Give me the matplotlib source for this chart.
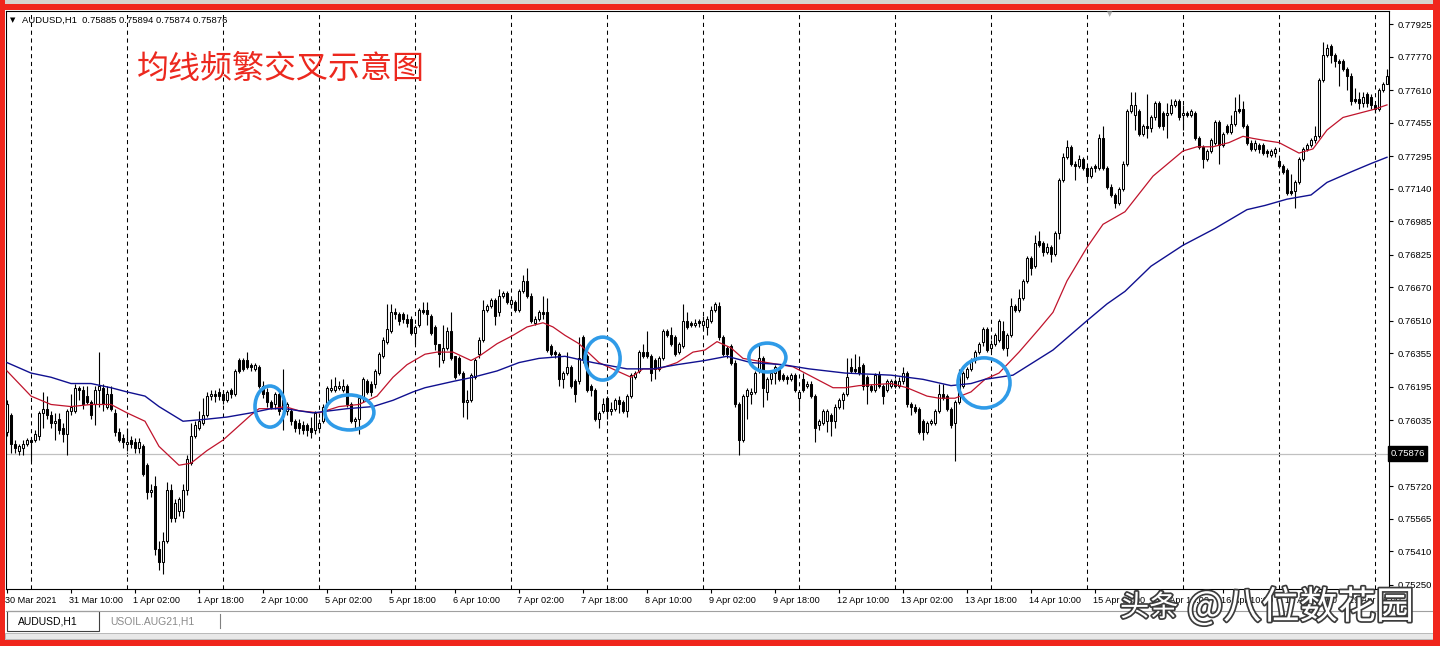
import numpy as np
import matplotlib
matplotlib.use("Agg")
import matplotlib.pyplot as plt
import matplotlib.transforms as mtransforms
import matplotlib.patheffects as pe
from matplotlib.patches import Ellipse, Rectangle
from matplotlib.lines import Line2D

plt.rcParams['font.family'] = ['Liberation Sans', 'DejaVu Sans']

# AUDUSD H1, 30 Mar 2021 18:00 .. 20 Apr 2021 03:00
opens = [
    0.7598, 0.7606, 0.7592, 0.7589, 0.7590, 0.7592, 0.7594, 0.7594, 0.7596, 0.7607,
    0.7609, 0.7606, 0.7602, 0.7604, 0.7600, 0.7597, 0.7608, 0.7608, 0.7619, 0.7618,
    0.7615, 0.7612, 0.7611, 0.7618, 0.7619, 0.7610, 0.7616, 0.7607, 0.7598, 0.7595,
    0.7592, 0.7594, 0.7593, 0.7590, 0.7591, 0.7582, 0.7569, 0.7572, 0.7542, 0.7536,
    0.7546, 0.7570, 0.7557, 0.7560, 0.7560, 0.7570, 0.7583, 0.7596, 0.7600, 0.7602,
    0.7606, 0.7615, 0.7616, 0.7617, 0.7616, 0.7613, 0.7618, 0.7616, 0.7632, 0.7632,
    0.7632, 0.7630, 0.7628, 0.7629, 0.7620, 0.7617, 0.7612, 0.7611, 0.7616, 0.7613,
    0.7608, 0.7608, 0.7603, 0.7602, 0.7601, 0.7601, 0.7600, 0.7599, 0.7600, 0.7603,
    0.7611, 0.7618, 0.7618, 0.7619, 0.7618, 0.7620, 0.7611, 0.7603, 0.7604, 0.7614,
    0.7622, 0.7621, 0.7621, 0.7626, 0.7634, 0.7641, 0.7646, 0.7655, 0.7654, 0.7654,
    0.7652, 0.7652, 0.7645, 0.7649, 0.7656, 0.7656, 0.7653, 0.7648, 0.7640, 0.7632,
    0.7638, 0.7646, 0.7634, 0.7633, 0.7626, 0.7612, 0.7613, 0.7624, 0.7635, 0.7642,
    0.7656, 0.7658, 0.7661, 0.7655, 0.7663, 0.7664, 0.7659, 0.7660, 0.7656, 0.7665,
    0.7670, 0.7663, 0.7650, 0.7652, 0.7655, 0.7655, 0.7639, 0.7636, 0.7635, 0.7623,
    0.7626, 0.7629, 0.7622, 0.7622, 0.7643, 0.7634, 0.7620, 0.7618, 0.7604, 0.7608,
    0.7614, 0.7608, 0.7609, 0.7613, 0.7612, 0.7608, 0.7615, 0.7624, 0.7627, 0.7636,
    0.7636, 0.7634, 0.7632, 0.7628, 0.7633, 0.7646, 0.7644, 0.7643, 0.7636, 0.7639,
    0.7651, 0.7650, 0.7649, 0.7651, 0.7649, 0.7648, 0.7651, 0.7656, 0.7658, 0.7643,
    0.7638, 0.7639, 0.7631, 0.7611, 0.7594, 0.7615, 0.7616, 0.7617, 0.7627, 0.7633,
    0.7617, 0.7623, 0.7626, 0.7628, 0.7625, 0.7624, 0.7623, 0.7625, 0.7614, 0.7623,
    0.7620, 0.7621, 0.7615, 0.7601, 0.7602, 0.7603, 0.7606, 0.7603, 0.7610, 0.7613,
    0.7616, 0.7629, 0.7628, 0.7629, 0.7630, 0.7624, 0.7620, 0.7618, 0.7625, 0.7620,
    0.7618, 0.7620, 0.7622, 0.7620, 0.7622, 0.7626, 0.7611, 0.7610, 0.7609, 0.7603,
    0.7598, 0.7602, 0.7602, 0.7608, 0.7616, 0.7615, 0.7609, 0.7602, 0.7612, 0.7620,
    0.7624, 0.7628, 0.7632, 0.7636, 0.7641, 0.7647, 0.7638, 0.7640, 0.7642, 0.7646,
    0.7638, 0.7644, 0.7658, 0.7656, 0.7662, 0.7670, 0.7681, 0.7677, 0.7689, 0.7688,
    0.7684, 0.7686, 0.7683, 0.7693, 0.7718, 0.7729, 0.7734, 0.7726, 0.7725, 0.7728,
    0.7724, 0.7720, 0.7725, 0.7724, 0.7738, 0.7724, 0.7715, 0.7711, 0.7707, 0.7714,
    0.7726, 0.7751, 0.7749, 0.7751, 0.7740, 0.7744, 0.7743, 0.7748, 0.7755, 0.7750,
    0.7749, 0.7750, 0.7754, 0.7756, 0.7749, 0.7750, 0.7749, 0.7750, 0.7738, 0.7734,
    0.7728, 0.7732, 0.7736, 0.7746, 0.7735, 0.7744, 0.7741, 0.7745, 0.7752, 0.7752,
    0.7744, 0.7736, 0.7733, 0.7735, 0.7735, 0.7732, 0.7730, 0.7731, 0.7727, 0.7725,
    0.7723, 0.7713, 0.7713, 0.7717, 0.7728, 0.7733, 0.7735, 0.7737, 0.7739, 0.7766,
    0.7778, 0.7782, 0.7778, 0.7775, 0.7775, 0.7771, 0.7768, 0.7757, 0.7757, 0.7755,
    0.7759, 0.7758, 0.7754, 0.7752, 0.7761, 0.7764,
]
highs = [
    0.7613, 0.7607, 0.7594, 0.7592, 0.7594, 0.7595, 0.7595, 0.7599, 0.7608, 0.7617,
    0.7615, 0.7608, 0.7607, 0.7607, 0.7602, 0.7609, 0.7616, 0.7621, 0.7620, 0.7620,
    0.7620, 0.7613, 0.7620, 0.7636, 0.7621, 0.7620, 0.7620, 0.7609, 0.7600, 0.7597,
    0.7600, 0.7596, 0.7595, 0.7595, 0.7592, 0.7583, 0.7573, 0.7577, 0.7546, 0.7550,
    0.7574, 0.7573, 0.7566, 0.7567, 0.7573, 0.7587, 0.7602, 0.7603, 0.7608, 0.7614,
    0.7617, 0.7618, 0.7618, 0.7619, 0.7618, 0.7618, 0.7619, 0.7628, 0.7633, 0.7633,
    0.7636, 0.7631, 0.7631, 0.7630, 0.7622, 0.7619, 0.7613, 0.7617, 0.7618, 0.7628,
    0.7612, 0.7609, 0.7604, 0.7604, 0.7603, 0.7602, 0.7605, 0.7608, 0.7604, 0.7611,
    0.7620, 0.7623, 0.7624, 0.7622, 0.7623, 0.7621, 0.7612, 0.7605, 0.7615, 0.7624,
    0.7623, 0.7622, 0.7628, 0.7636, 0.7643, 0.7659, 0.7659, 0.7657, 0.7655, 0.7655,
    0.7654, 0.7653, 0.7649, 0.7657, 0.7660, 0.7660, 0.7654, 0.7649, 0.7640, 0.7649,
    0.7648, 0.7655, 0.7634, 0.7634, 0.7627, 0.7618, 0.7626, 0.7633, 0.7643, 0.7661,
    0.7659, 0.7662, 0.7662, 0.7666, 0.7665, 0.7665, 0.7662, 0.7661, 0.7666, 0.7673,
    0.7676, 0.7664, 0.7653, 0.7656, 0.7663, 0.7662, 0.7640, 0.7637, 0.7636, 0.7627,
    0.7636, 0.7630, 0.7623, 0.7643, 0.7644, 0.7635, 0.7621, 0.7619, 0.7608, 0.7614,
    0.7615, 0.7612, 0.7614, 0.7615, 0.7613, 0.7616, 0.7626, 0.7627, 0.7637, 0.7640,
    0.7646, 0.7635, 0.7633, 0.7634, 0.7647, 0.7647, 0.7648, 0.7644, 0.7641, 0.7659,
    0.7655, 0.7651, 0.7652, 0.7652, 0.7653, 0.7653, 0.7658, 0.7660, 0.7660, 0.7644,
    0.7639, 0.7640, 0.7632, 0.7612, 0.7616, 0.7619, 0.7619, 0.7627, 0.7640, 0.7634,
    0.7624, 0.7627, 0.7630, 0.7629, 0.7626, 0.7625, 0.7626, 0.7626, 0.7618, 0.7626,
    0.7622, 0.7622, 0.7616, 0.7604, 0.7609, 0.7609, 0.7607, 0.7611, 0.7614, 0.7617,
    0.7633, 0.7633, 0.7635, 0.7634, 0.7631, 0.7625, 0.7621, 0.7626, 0.7627, 0.7621,
    0.7623, 0.7623, 0.7623, 0.7624, 0.7629, 0.7627, 0.7612, 0.7611, 0.7610, 0.7604,
    0.7603, 0.7604, 0.7609, 0.7621, 0.7621, 0.7616, 0.7610, 0.7613, 0.7628, 0.7627,
    0.7629, 0.7633, 0.7637, 0.7641, 0.7648, 0.7648, 0.7642, 0.7645, 0.7652, 0.7651,
    0.7645, 0.7662, 0.7659, 0.7666, 0.7671, 0.7682, 0.7682, 0.7692, 0.7694, 0.7689,
    0.7688, 0.7687, 0.7694, 0.7719, 0.7731, 0.7737, 0.7735, 0.7727, 0.7730, 0.7729,
    0.7725, 0.7725, 0.7726, 0.7740, 0.7744, 0.7725, 0.7716, 0.7712, 0.7715, 0.7727,
    0.7752, 0.7760, 0.7760, 0.7752, 0.7745, 0.7759, 0.7749, 0.7756, 0.7756, 0.7751,
    0.7755, 0.7757, 0.7757, 0.7757, 0.7754, 0.7751, 0.7752, 0.7751, 0.7739, 0.7735,
    0.7733, 0.7738, 0.7747, 0.7747, 0.7741, 0.7745, 0.7749, 0.7758, 0.7759, 0.7756,
    0.7745, 0.7737, 0.7737, 0.7736, 0.7736, 0.7733, 0.7733, 0.7734, 0.7728, 0.7726,
    0.7724, 0.7721, 0.7718, 0.7729, 0.7734, 0.7736, 0.7738, 0.7744, 0.7767, 0.7784,
    0.7783, 0.7783, 0.7779, 0.7776, 0.7776, 0.7772, 0.7769, 0.7762, 0.7760, 0.7760,
    0.7760, 0.7759, 0.7755, 0.7762, 0.7765, 0.7771,
]
lows = [
    0.7596, 0.7588, 0.7588, 0.7587, 0.7587, 0.7591, 0.7584, 0.7593, 0.7594, 0.7600,
    0.7604, 0.7600, 0.7594, 0.7597, 0.7593, 0.7587, 0.7606, 0.7607, 0.7613, 0.7609,
    0.7611, 0.7604, 0.7601, 0.7610, 0.7608, 0.7609, 0.7608, 0.7596, 0.7593, 0.7590,
    0.7589, 0.7590, 0.7588, 0.7588, 0.7577, 0.7566, 0.7567, 0.7539, 0.7532, 0.7530,
    0.7545, 0.7555, 0.7555, 0.7558, 0.7557, 0.7568, 0.7582, 0.7595, 0.7599, 0.7601,
    0.7605, 0.7613, 0.7612, 0.7613, 0.7611, 0.7612, 0.7614, 0.7615, 0.7626, 0.7627,
    0.7628, 0.7627, 0.7627, 0.7619, 0.7614, 0.7610, 0.7609, 0.7609, 0.7606, 0.7599,
    0.7606, 0.7601, 0.7598, 0.7597, 0.7597, 0.7596, 0.7595, 0.7597, 0.7598, 0.7602,
    0.7610, 0.7617, 0.7617, 0.7618, 0.7617, 0.7610, 0.7602, 0.7600, 0.7597, 0.7612,
    0.7616, 0.7615, 0.7619, 0.7625, 0.7633, 0.7640, 0.7645, 0.7652, 0.7649, 0.7650,
    0.7648, 0.7644, 0.7640, 0.7648, 0.7654, 0.7649, 0.7644, 0.7637, 0.7629, 0.7631,
    0.7637, 0.7632, 0.7623, 0.7625, 0.7605, 0.7604, 0.7612, 0.7623, 0.7633, 0.7641,
    0.7655, 0.7657, 0.7649, 0.7653, 0.7662, 0.7659, 0.7657, 0.7655, 0.7655, 0.7664,
    0.7662, 0.7650, 0.7649, 0.7651, 0.7652, 0.7636, 0.7634, 0.7633, 0.7620, 0.7619,
    0.7625, 0.7619, 0.7612, 0.7621, 0.7631, 0.7617, 0.7615, 0.7603, 0.7600, 0.7607,
    0.7604, 0.7606, 0.7608, 0.7607, 0.7607, 0.7605, 0.7614, 0.7623, 0.7626, 0.7633,
    0.7633, 0.7622, 0.7623, 0.7627, 0.7632, 0.7643, 0.7639, 0.7634, 0.7635, 0.7638,
    0.7647, 0.7648, 0.7648, 0.7648, 0.7647, 0.7644, 0.7650, 0.7655, 0.7642, 0.7634,
    0.7633, 0.7630, 0.7610, 0.7587, 0.7593, 0.7604, 0.7611, 0.7616, 0.7626, 0.7610,
    0.7613, 0.7621, 0.7621, 0.7622, 0.7622, 0.7621, 0.7622, 0.7617, 0.7608, 0.7617,
    0.7619, 0.7614, 0.7593, 0.7599, 0.7601, 0.7598, 0.7596, 0.7600, 0.7609, 0.7609,
    0.7615, 0.7626, 0.7626, 0.7625, 0.7618, 0.7611, 0.7617, 0.7617, 0.7619, 0.7611,
    0.7617, 0.7619, 0.7619, 0.7619, 0.7621, 0.7610, 0.7606, 0.7607, 0.7597, 0.7594,
    0.7597, 0.7601, 0.7601, 0.7607, 0.7613, 0.7608, 0.7600, 0.7584, 0.7611, 0.7619,
    0.7623, 0.7627, 0.7631, 0.7635, 0.7639, 0.7636, 0.7636, 0.7639, 0.7641, 0.7637,
    0.7634, 0.7643, 0.7655, 0.7655, 0.7661, 0.7669, 0.7673, 0.7676, 0.7686, 0.7682,
    0.7683, 0.7679, 0.7682, 0.7690, 0.7717, 0.7728, 0.7725, 0.7718, 0.7724, 0.7723,
    0.7718, 0.7719, 0.7722, 0.7723, 0.7723, 0.7714, 0.7710, 0.7705, 0.7706, 0.7713,
    0.7725, 0.7750, 0.7742, 0.7739, 0.7739, 0.7738, 0.7741, 0.7747, 0.7743, 0.7742,
    0.7738, 0.7749, 0.7753, 0.7747, 0.7742, 0.7748, 0.7748, 0.7737, 0.7733, 0.7724,
    0.7727, 0.7731, 0.7735, 0.7726, 0.7734, 0.7740, 0.7740, 0.7744, 0.7750, 0.7743,
    0.7735, 0.7732, 0.7732, 0.7731, 0.7730, 0.7729, 0.7729, 0.7729, 0.7724, 0.7721,
    0.7711, 0.7711, 0.7705, 0.7716, 0.7727, 0.7732, 0.7734, 0.7736, 0.7738, 0.7765,
    0.7777, 0.7774, 0.7772, 0.7763, 0.7770, 0.7761, 0.7754, 0.7755, 0.7752, 0.7753,
    0.7753, 0.7752, 0.7750, 0.7751, 0.7760, 0.7764,
]
closes = [
    0.7611, 0.7592, 0.7590, 0.7591, 0.7592, 0.7594, 0.7593, 0.7597, 0.7607, 0.7609,
    0.7606, 0.7602, 0.7603, 0.7599, 0.7597, 0.7608, 0.7610, 0.7619, 0.7618, 0.7611,
    0.7612, 0.7606, 0.7618, 0.7620, 0.7611, 0.7616, 0.7609, 0.7598, 0.7594, 0.7593,
    0.7593, 0.7592, 0.7590, 0.7593, 0.7578, 0.7569, 0.7570, 0.7542, 0.7536, 0.7546,
    0.7570, 0.7557, 0.7564, 0.7566, 0.7570, 0.7585, 0.7596, 0.7601, 0.7603, 0.7606,
    0.7615, 0.7616, 0.7615, 0.7615, 0.7613, 0.7617, 0.7616, 0.7627, 0.7627, 0.7628,
    0.7629, 0.7629, 0.7630, 0.7620, 0.7616, 0.7612, 0.7610, 0.7616, 0.7608, 0.7609,
    0.7611, 0.7603, 0.7600, 0.7600, 0.7599, 0.7599, 0.7598, 0.7607, 0.7602, 0.7610,
    0.7619, 0.7619, 0.7620, 0.7620, 0.7620, 0.7611, 0.7603, 0.7604, 0.7614, 0.7623,
    0.7617, 0.7617, 0.7627, 0.7635, 0.7642, 0.7647, 0.7655, 0.7654, 0.7651, 0.7652,
    0.7650, 0.7645, 0.7648, 0.7656, 0.7655, 0.7654, 0.7645, 0.7640, 0.7635, 0.7638,
    0.7646, 0.7633, 0.7624, 0.7626, 0.7612, 0.7613, 0.7625, 0.7632, 0.7642, 0.7656,
    0.7658, 0.7661, 0.7653, 0.7663, 0.7664, 0.7660, 0.7661, 0.7656, 0.7665, 0.7670,
    0.7663, 0.7651, 0.7652, 0.7655, 0.7654, 0.7637, 0.7635, 0.7635, 0.7623, 0.7626,
    0.7629, 0.7620, 0.7616, 0.7633, 0.7632, 0.7618, 0.7618, 0.7604, 0.7607, 0.7611,
    0.7608, 0.7609, 0.7613, 0.7611, 0.7608, 0.7615, 0.7625, 0.7626, 0.7636, 0.7634,
    0.7634, 0.7626, 0.7628, 0.7633, 0.7646, 0.7644, 0.7640, 0.7635, 0.7640, 0.7651,
    0.7648, 0.7649, 0.7650, 0.7650, 0.7651, 0.7652, 0.7656, 0.7659, 0.7643, 0.7635,
    0.7635, 0.7631, 0.7611, 0.7594, 0.7615, 0.7618, 0.7617, 0.7626, 0.7633, 0.7619,
    0.7623, 0.7626, 0.7629, 0.7623, 0.7623, 0.7623, 0.7625, 0.7618, 0.7617, 0.7618,
    0.7621, 0.7615, 0.7600, 0.7603, 0.7608, 0.7608, 0.7603, 0.7610, 0.7613, 0.7616,
    0.7624, 0.7627, 0.7627, 0.7626, 0.7620, 0.7620, 0.7618, 0.7625, 0.7620, 0.7615,
    0.7622, 0.7622, 0.7620, 0.7622, 0.7626, 0.7611, 0.7610, 0.7608, 0.7598, 0.7598,
    0.7602, 0.7603, 0.7608, 0.7616, 0.7614, 0.7609, 0.7601, 0.7612, 0.7626, 0.7626,
    0.7628, 0.7632, 0.7636, 0.7640, 0.7647, 0.7637, 0.7640, 0.7644, 0.7651, 0.7638,
    0.7644, 0.7658, 0.7656, 0.7662, 0.7670, 0.7681, 0.7676, 0.7688, 0.7687, 0.7684,
    0.7686, 0.7683, 0.7693, 0.7718, 0.7729, 0.7734, 0.7726, 0.7725, 0.7728, 0.7724,
    0.7720, 0.7724, 0.7724, 0.7738, 0.7724, 0.7715, 0.7711, 0.7707, 0.7714, 0.7726,
    0.7751, 0.7754, 0.7754, 0.7740, 0.7744, 0.7743, 0.7748, 0.7755, 0.7744, 0.7744,
    0.7750, 0.7754, 0.7756, 0.7748, 0.7750, 0.7749, 0.7751, 0.7738, 0.7734, 0.7728,
    0.7732, 0.7737, 0.7746, 0.7735, 0.7740, 0.7741, 0.7745, 0.7751, 0.7751, 0.7744,
    0.7736, 0.7733, 0.7736, 0.7733, 0.7731, 0.7731, 0.7732, 0.7733, 0.7725, 0.7722,
    0.7712, 0.7712, 0.7717, 0.7728, 0.7733, 0.7735, 0.7737, 0.7739, 0.7766, 0.7778,
    0.7781, 0.7778, 0.7775, 0.7774, 0.7771, 0.7768, 0.7756, 0.7756, 0.7755, 0.7758,
    0.7755, 0.7754, 0.7752, 0.7761, 0.7764, 0.7768,
]

# moving averages, read at bar positions
red_x = [0, 6, 11, 16, 21, 26, 30, 34.5, 38, 43,
         46, 50, 54, 57.5, 61, 63, 66.5, 69.5, 73, 78,
         83, 88, 92.5, 96.5, 100, 104.5, 107.5, 111.5, 116, 118,
         122.5, 126.5, 130, 134, 136.5, 139.5, 143, 148, 152.5, 156,
         159, 163, 167.5, 171.5, 174.5, 177.5, 181, 184, 190, 196.5,
         202.5, 206.5, 209.5, 213, 221, 225, 230, 233, 237, 241,
         244.5, 248, 253, 258, 261.5, 265, 270, 274, 279.5, 286.5,
         294, 297.5, 301.5, 305.5, 309, 311.5, 314.5, 318, 323, 326.5,
         330, 334, 338, 342, 345]
red_ma = [0.7627, 0.7615, 0.7611, 0.7610, 0.7611, 0.7611, 0.7607, 0.7603, 0.7591, 0.7582,
          0.7583, 0.7589, 0.7594, 0.7600, 0.7606, 0.7609, 0.7609, 0.7610, 0.7608, 0.7607,
          0.7610, 0.7611, 0.7615, 0.7624, 0.7630, 0.7635, 0.7636, 0.7636, 0.7632, 0.7634,
          0.7640, 0.7644, 0.7648, 0.7650, 0.7648, 0.7644, 0.7640, 0.7631, 0.7627, 0.7624,
          0.7628, 0.7628, 0.7631, 0.7636, 0.7637, 0.7641, 0.7638, 0.7633, 0.7631, 0.7629,
          0.7623, 0.7619, 0.7619, 0.7620, 0.7621, 0.7619, 0.7615, 0.7614, 0.7614, 0.7617,
          0.7623, 0.7626, 0.7636, 0.7647, 0.7655, 0.7670, 0.7686, 0.7697, 0.7703, 0.7720,
          0.7732, 0.7734, 0.7734, 0.7736, 0.7739, 0.7738, 0.7737, 0.7736, 0.7731, 0.7733,
          0.7742, 0.7748, 0.7750, 0.7752, 0.7754]
blue_x = [0, 6, 11, 16, 21, 26, 30, 34.5, 38, 44,
          50, 55, 61, 66, 69.5, 76.5, 85, 91.5, 96.5, 101.5,
          104.5, 111.5, 116.5, 122.5, 128, 133, 139.5, 146.5, 155, 161.5,
          167.5, 174.5, 180, 186, 194, 200.5, 209.5, 221, 229, 236,
          241, 244.5, 251.5, 261.5, 270, 275, 279.5, 286, 294, 302,
          310, 314.5, 320, 326, 330, 336, 341, 345]
blue_ma = [0.7631, 0.7626, 0.7624, 0.7621, 0.7621, 0.7619, 0.7617, 0.7615, 0.7610, 0.7603,
           0.7604, 0.7605, 0.7607, 0.7609, 0.7609, 0.7607, 0.7609, 0.7610, 0.7613, 0.7617,
           0.7619, 0.7622, 0.7624, 0.7627, 0.7631, 0.7633, 0.7634, 0.7631, 0.7628, 0.7628,
           0.7630, 0.7632, 0.7634, 0.7631, 0.7630, 0.7628, 0.7626, 0.7625, 0.7623, 0.7620,
           0.7621, 0.7623, 0.7625, 0.7637, 0.7651, 0.7659, 0.7665, 0.7677, 0.7687, 0.7695,
           0.7704, 0.7706, 0.7709, 0.7711, 0.7717, 0.7722, 0.7726, 0.7729]

# time axis
day_starts = [6, 30, 54, 78, 102, 126, 150, 174, 198, 222, 246, 270, 294, 318, 342]
time_ticks = [0, 16, 32, 48, 64, 80, 96, 112, 128, 144, 160, 176, 192, 208, 224, 240, 256,
              272, 288, 304, 320, 336]
time_labels = ["30 Mar 2021", "31 Mar 10:00", "1 Apr 02:00", "1 Apr 18:00", "2 Apr 10:00",
               "5 Apr 02:00", "5 Apr 18:00", "6 Apr 10:00", "7 Apr 02:00", "7 Apr 18:00",
               "8 Apr 10:00", "9 Apr 02:00", "9 Apr 18:00", "12 Apr 10:00", "13 Apr 02:00",
               "13 Apr 18:00", "14 Apr 10:00", "15 Apr 02:00", "15 Apr 18:00", "16 Apr 10:00",
               "19 Apr 02:00", "19 Apr 18:00"]
price_ticks = [0.77925, 0.77770, 0.77610, 0.77455, 0.77295, 0.77140, 0.76985, 0.76825, 0.76670,
               0.76510, 0.76355, 0.76195, 0.76035, 0.75720, 0.75565, 0.75410, 0.75250]
bid = 0.75876
header = "AUDUSD,H1  0.75885 0.75894 0.75874 0.75876"

# crossings marked on the chart: (bar, price, width in bars, height in price)
circles = [(65.75, 0.76100, 7.5, 0.00196),
           (85.6, 0.76072, 12.25, 0.00167),
           (148.9, 0.76329, 8.75, 0.00205),
           (190.1, 0.76334, 9.25, 0.00138),
           (244.25, 0.76213, 13.0, 0.00239)]

o = np.array(opens)
h = np.array(highs)
l = np.array(lows)
c = np.array(closes)
n = len(c)
idx = np.arange(n)

W, H = 1440, 646
fig = plt.figure(figsize=(W / 100, H / 100), dpi=100)
fig.patch.set_facecolor('white')


def fx(px):
    return px / W


def fy(py):
    return 1 - py / H


ax = fig.add_axes([fx(6), fy(589), fx(1389) - fx(6), fy(11) - fy(589)])
ax.set_xlim(-0.25, n - 0.5)
ax.set_ylim(0.752293, 0.779881)
ax.set_facecolor('white')
for s in ax.spines.values():
    s.set_color('black')
    s.set_linewidth(0.8)

# period separators
for d in day_starts:
    ax.axvline(d, color='black', lw=0.75, linestyle=(0, (4, 3.5)), zorder=1)

# bid line
ax.axhline(bid, color='#c0c0c0', lw=0.9, zorder=1)

# candles
up = c >= o
ax.vlines(idx, l, h, color='black', lw=0.8, zorder=3)
ax.bar(idx[up], (c - o)[up], bottom=o[up], width=0.55, color='white',
       edgecolor='black', linewidth=0.75, zorder=4)
ax.bar(idx[~up], (o - c)[~up], bottom=c[~up], width=0.55, color='black',
       edgecolor='black', linewidth=0.75, zorder=4)

# moving averages
ax.plot(red_x, red_ma, color='#c0142c', lw=0.9, zorder=5)
ax.plot(blue_x, blue_ma, color='#101090', lw=1.0, zorder=5)

for cx, cy, w, hh in circles:
    ax.add_patch(Ellipse((cx, cy), w, hh, fill=False, edgecolor='#2f9be8', lw=2.6, zorder=6))

# axes
ax.yaxis.tick_right()
ax.set_yticks(price_ticks)
ax.set_yticklabels([f"{p:.5f}" for p in price_ticks])
ax.tick_params(axis='y', direction='out', length=3, width=0.8, pad=3, labelsize=6.8, colors='black')
ax.set_xticks(time_ticks)
ax.set_xticklabels(time_labels, ha='left')
ax.tick_params(axis='x', direction='out', length=3, width=0.8, pad=2, labelsize=6.6, colors='black')
for lab in ax.get_xticklabels():
    lab.set_transform(lab.get_transform() + mtransforms.ScaledTranslation(-2 / 100, 0, fig.dpi_scale_trans))

ytr = mtransforms.blended_transform_factory(ax.transAxes, ax.transData)
ax.text(1.001, bid, "0.75876", transform=ytr, ha='left', va='center', fontsize=6.8,
        color='white', bbox=dict(boxstyle='square,pad=0.28', fc='black', ec='black'), zorder=7)

# header and title
fig.text(fx(10), fy(20), "\u25bc", fontsize=5, family=['DejaVu Sans'], va='center', ha='left')
fig.text(fx(22), fy(20), header, fontsize=6.8, va='center', ha='left')
fig.text(fx(1110), fy(14), "\u25bc", fontsize=5, family=['DejaVu Sans'], color='#b0b0b0',
         va='center', ha='center')
fig.text(fx(137), fy(69), "均线频繁交叉示意图", fontsize=23, color='#ec281e',
         family=['Noto Sans CJK SC', 'DejaVu Sans'], va='center', ha='left')

# window frame: top strip, tab bar, red border
fig.patches.append(Rectangle((0, fy(4)), 1, fy(0) - fy(4), transform=fig.transFigure,
                             fc='#d6d3ce', ec='none', zorder=0))
fig.lines.append(Line2D([fx(6), fx(1432)], [fy(611), fy(611)], transform=fig.transFigure,
                        color='#a0a0a0', lw=0.8))
fig.patches.append(Rectangle((fx(7), fy(631)), fx(99) - fx(7), fy(611) - fy(631),
                             transform=fig.transFigure, fc='white', ec='#404040', lw=0.8))
fig.text(fx(18), fy(621), "AUDUSD,H1", fontsize=7.5, va='center', ha='left', color='black')
fig.text(fx(110), fy(621), "USOIL.AUG21,H1", fontsize=7.5, va='center', ha='left', color='#8a8a8a')
fig.lines.append(Line2D([fx(220), fx(220)], [fy(614), fy(628)], transform=fig.transFigure,
                        color='#808080', lw=0.8))
fig.patches.append(Rectangle((fx(5), fy(639)), fx(1433) - fx(5), fy(633) - fy(639),
                             transform=fig.transFigure, fc='#e8e8e8', ec='#b0b0b0', lw=0.6))

fig.text(fx(1120), fy(608), "头条", fontsize=21, color='white',
         family=['Noto Sans CJK SC', 'DejaVu Sans'], va='center', ha='left',
         path_effects=[pe.withStroke(linewidth=2.5, foreground='#3c3c3c')])
fig.text(fx(1187), fy(608), "@八位数花园", fontsize=27.5, color='white',
         family=['Noto Sans CJK SC', 'DejaVu Sans'], va='center', ha='left',
         path_effects=[pe.withStroke(linewidth=2.5, foreground='#3c3c3c')])

red = '#f0261c'
for rect in [(0, 0, fx(5), 1), (fx(1433), 0, 1 - fx(1433), 1),
             (0, fy(10), 1, fy(4) - fy(10)), (0, 0, 1, fy(640))]:
    fig.patches.append(Rectangle(rect[:2], rect[2], rect[3], transform=fig.transFigure,
                                 fc=red, ec='none', zorder=10))

fig.savefig('out.png', dpi=100)
